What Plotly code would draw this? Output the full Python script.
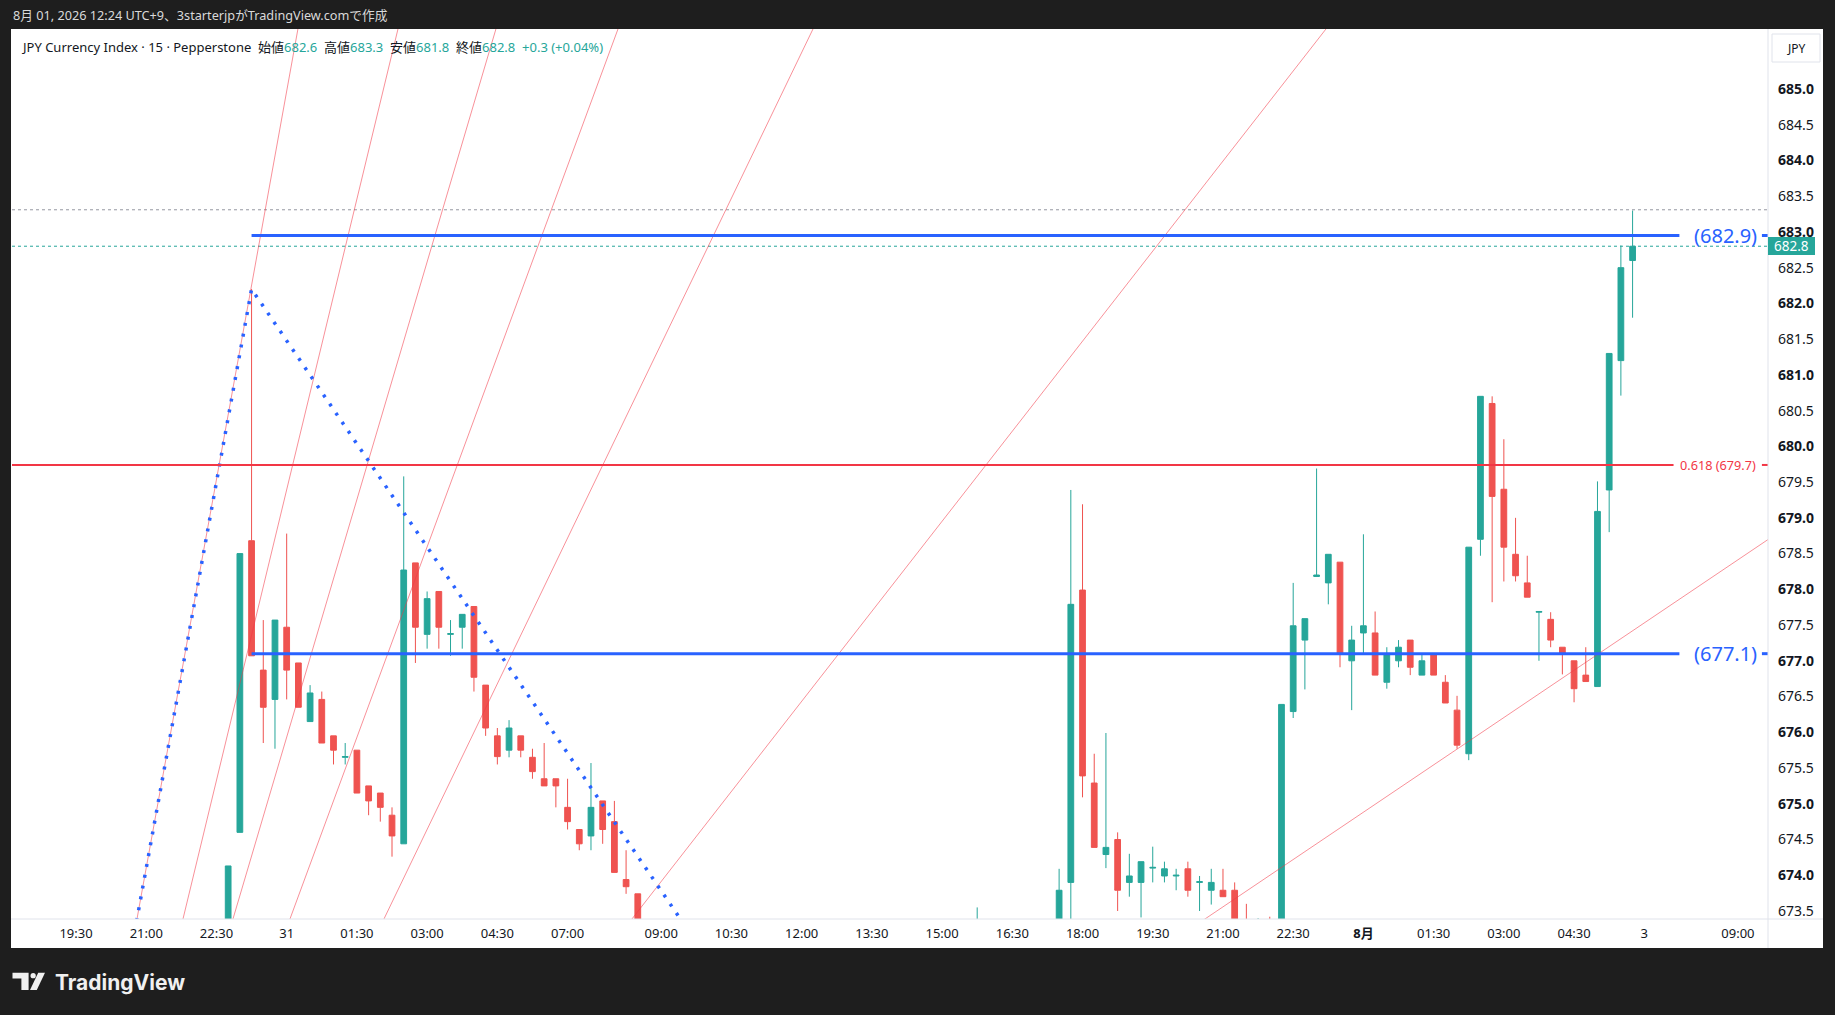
import plotly.graph_objects as go

# JPY Currency Index, 15 min bars (Pepperstone)
# x = bar number, 0 = 7/31 00:00
bar_idx = list(range(-5, 31)) + [59] + list(range(66, 116))

opens = [
    672.90, 674.60, 678.68, 676.87, 676.46, 677.47, 676.97, 676.15, 676.46, 675.95,
    675.65, 675.75, 675.25, 675.15, 674.84, 674.44, 678.37, 677.37, 677.97, 677.37,
    677.47, 677.76, 676.66, 675.95, 675.75, 675.95, 675.65, 675.35, 675.35, 674.95,
    674.64, 674.55, 675.04, 674.75, 673.94, 673.74,
    673.10,
    673.20, 673.90, 677.99, 675.29, 674.29, 674.50, 673.90, 673.90, 674.10, 673.99,
    673.99, 674.09, 673.90, 673.79, 673.79, 673.79, 673.30, 673.10, 673.30, 673.20,
    676.29, 677.29, 678.18, 678.09, 678.38, 677.00, 677.39, 677.39, 676.70, 677.00,
    677.29, 676.80, 677.10, 676.70, 676.31, 675.70, 678.70, 680.60, 679.40, 678.49,
    678.09, 677.68, 677.58, 677.19, 677.00, 676.80, 676.64, 679.39, 681.20, 682.60,
]
highs = [
    674.13, 678.50, 682.20, 677.57, 677.57, 678.78, 676.97, 676.66, 676.57, 675.95,
    675.85, 675.75, 675.25, 675.15, 674.95, 679.58, 678.37, 677.97, 677.97, 677.57,
    677.65, 677.76, 676.66, 676.06, 676.17, 675.95, 675.77, 675.85, 675.35, 675.35,
    674.64, 675.57, 675.04, 675.04, 674.35, 673.74,
    673.55,
    674.09, 679.39, 679.19, 675.70, 675.99, 674.60, 674.30, 674.19, 674.40, 674.19,
    674.09, 674.19, 673.99, 674.09, 674.09, 673.90, 673.60, 673.40, 673.42, 676.39,
    678.09, 677.59, 679.69, 678.49, 678.38, 677.49, 678.77, 677.69, 677.19, 677.29,
    677.29, 677.10, 677.10, 676.80, 676.51, 678.59, 680.70, 680.70, 680.10, 679.00,
    678.47, 677.69, 677.68, 677.19, 677.00, 677.19, 679.51, 681.30, 682.81, 683.30,
]
lows = [
    672.60, 674.60, 677.07, 675.85, 675.77, 676.46, 676.35, 676.15, 675.85, 675.55,
    675.55, 675.15, 674.84, 674.75, 674.26, 674.44, 676.97, 677.17, 677.17, 677.07,
    677.17, 676.57, 675.95, 675.55, 675.65, 675.65, 675.35, 675.25, 674.95, 674.64,
    674.35, 674.35, 674.44, 674.04, 673.74, 673.10,
    672.90,
    673.10, 673.20, 675.09, 674.39, 674.10, 673.50, 673.70, 673.41, 673.90, 673.90,
    673.79, 673.70, 673.50, 673.59, 673.70, 673.10, 672.90, 672.90, 672.90, 673.00,
    676.20, 676.60, 678.18, 677.79, 676.91, 676.31, 677.10, 676.80, 676.61, 676.91,
    676.80, 676.80, 676.80, 676.41, 675.77, 675.61, 678.47, 677.82, 678.11, 678.11,
    677.89, 677.00, 677.19, 676.81, 676.42, 676.71, 676.64, 678.80, 680.71, 681.80,
]
closes = [
    674.13, 678.50, 677.07, 676.35, 677.57, 676.87, 676.35, 676.55, 675.85, 675.75,
    675.66, 675.15, 675.04, 674.95, 674.55, 678.27, 677.47, 677.87, 677.47, 677.38,
    677.65, 676.77, 676.06, 675.66, 676.06, 675.75, 675.45, 675.25, 675.25, 674.75,
    674.44, 674.95, 674.64, 674.04, 673.84, 673.20,
    673.20,
    673.79, 677.79, 675.39, 674.39, 674.39, 673.79, 673.99, 674.19, 674.11, 674.09,
    674.00, 673.79, 673.91, 673.90, 673.70, 673.25, 673.00, 673.20, 673.10, 676.39,
    677.49, 677.59, 678.20, 678.49, 677.10, 677.29, 677.49, 676.80, 677.10, 677.19,
    676.91, 677.00, 676.80, 676.41, 675.82, 678.59, 680.70, 679.30, 678.59, 678.19,
    677.89, 677.69, 677.29, 677.10, 676.61, 676.71, 679.09, 681.30, 682.50, 682.80,
]

# time axis
time_tick_idx = [-18, -12, -6, 0, 6, 12, 18, 24, 32, 38, 44, 50, 56, 62, 68, 74, 80, 86,
                 92, 98, 104, 110, 116, 124]
time_tick_text = ["19:30", "21:00", "22:30", "31", "01:30", "03:00", "04:30", "07:00",
                  "09:00", "10:30", "12:00", "13:30", "15:00", "16:30", "18:00", "19:30",
                  "21:00", "22:30", "<b>8月</b>", "01:30", "03:00", "04:30", "3", "09:00"]

# price axis
price_ticks = [673.5, 674.0, 674.5, 675.0, 675.5, 676.0, 676.5, 677.0, 677.5, 678.0,
               678.5, 679.0, 679.5, 680.0, 680.5, 681.0, 681.5, 682.0, 682.5, 683.0,
               683.5, 684.0, 684.5, 685.0]

# drawings
level_lines = [682.95, 677.1]          # blue horizontal lines
level_labels = ["(682.9)", "(677.1)"]
level_start = -3
level_end = 119
fib_level = 679.74                     # 0.618 line
fib_label = "0.618 (679.7)"
fib_end = 118.5
# dotted blue swing: low -> high -> low
swing_x = [-14, -3, 38]
swing_y = [672.3, 682.2, 672.34]
# fan lines: bar position where each line crosses the bottom / top of the pane
fan_bottom_x = [-12.79, -8.86, -4.59, 0.28, 8.31, 29.5, 78.46]
fan_top_x = [0.96, 9.51, 17.88, 28.31, 44.97, 88.8, 191.3]

last_close = 682.8
session_high = 683.31

X_RANGE = [-23.47, 126.57]
Y_RANGE = [673.388, 685.839]

UP = "#26a69a"
DOWN = "#ef5350"
BLUE = "#2962ff"
RED = "#f23645"
TXT = "#131722"
FONT = "Noto Sans, Noto Sans CJK JP, sans-serif"


def px(x):
    return (x - 12) / 1756


def py(y):
    return (919 - y) / 890


fig = go.Figure()

# price lines (last close / high)
fig.add_trace(go.Scatter(x=X_RANGE, y=[session_high, session_high], mode="lines",
                         line=dict(color="#9598a1", width=1, dash="dot"),
                         hoverinfo="skip", showlegend=False))
fig.add_trace(go.Scatter(x=X_RANGE, y=[last_close, last_close], mode="lines",
                         line=dict(color=UP, width=1, dash="dot"),
                         hoverinfo="skip", showlegend=False))

fig.add_trace(go.Candlestick(
    x=bar_idx, open=opens, high=highs, low=lows, close=closes,
    increasing=dict(line=dict(color=UP, width=1), fillcolor=UP),
    decreasing=dict(line=dict(color=DOWN, width=1), fillcolor=DOWN),
    whiskerwidth=0, hoverinfo="skip", showlegend=False,
))

# fan
ylo, yhi = Y_RANGE
for xb, xt in zip(fan_bottom_x, fan_top_x):
    k = (xt - xb) / (yhi - ylo)
    fig.add_trace(go.Scatter(
        x=[xb - k * 2, xt + k * 2], y=[ylo - 2, yhi + 2], mode="lines",
        line=dict(color="rgba(242,54,69,0.55)", width=1),
        hoverinfo="skip", showlegend=False))

# dotted swing lines
fig.add_trace(go.Scatter(x=swing_x, y=swing_y, mode="lines",
                         line=dict(color=BLUE, width=3.5, dash="3px,8px"),
                         hoverinfo="skip", showlegend=False))

# fib 0.618 line
fig.add_trace(go.Scatter(x=[X_RANGE[0], fib_end], y=[fib_level, fib_level], mode="lines",
                         line=dict(color=RED, width=2), hoverinfo="skip", showlegend=False))
fig.add_trace(go.Scatter(x=[126.05, X_RANGE[1]], y=[fib_level, fib_level], mode="lines",
                         line=dict(color=RED, width=2), hoverinfo="skip", showlegend=False))

# horizontal levels
for lv in level_lines:
    fig.add_trace(go.Scatter(x=[level_start, level_end], y=[lv, lv], mode="lines",
                             line=dict(color=BLUE, width=3), hoverinfo="skip",
                             showlegend=False))
    fig.add_trace(go.Scatter(x=[126.05, X_RANGE[1]], y=[lv, lv], mode="lines",
                             line=dict(color=BLUE, width=3), hoverinfo="skip",
                             showlegend=False))

annotations = []
for lv, lab in zip(level_lines, level_labels):
    annotations.append(dict(x=120.1, y=lv, xref="x", yref="y", xanchor="left",
                            yanchor="middle", text=lab, showarrow=False,
                            font=dict(family=FONT, size=20, color=BLUE)))
annotations.append(dict(x=118.9, y=fib_level, xref="x", yref="y", xanchor="left",
                        yanchor="middle", text=fib_label, showarrow=False,
                        font=dict(family=FONT, size=12.7, color=RED)))

# header and legend
annotations.append(dict(x=px(11), y=py(15), xref="paper", yref="paper", xanchor="left",
                        yanchor="middle", showarrow=False,
                        text="8月 01, 2026 12:24 UTC+9、3starterjpがTradingView.comで作成",
                        font=dict(family=FONT, size=12.7, color="#d9d9d9")))
teal = lambda s: "<span style='color:%s'>%s</span>" % (UP, s)
legend_txt = ("JPY Currency Index · 15 · Pepperstone  始値" + teal("682.6") + "  高値" +
              teal("683.3") + "  安値" + teal("681.8") + "  終値" + teal("682.8") + "  " +
              teal("+0.3 (+0.04%)"))
annotations.append(dict(x=px(19), y=py(47), xref="paper", yref="paper", xanchor="left",
                        yanchor="middle", showarrow=False, text=legend_txt,
                        font=dict(family=FONT, size=13, color=TXT)))
annotations.append(dict(x=px(1796), y=py(48), xref="paper", yref="paper", xanchor="center",
                        yanchor="middle", showarrow=False, text="JPY",
                        font=dict(family=FONT, size=12, color=TXT)))
annotations.append(dict(x=px(1791.5), y=py(246), xref="paper", yref="paper", xanchor="center",
                        yanchor="middle", showarrow=False, text="%.1f" % last_close,
                        font=dict(family=FONT, size=13.5, color="white")))
annotations.append(dict(x=px(53), y=py(983), xref="paper", yref="paper", xanchor="left",
                        yanchor="middle", showarrow=False, text="<b>TradingView</b>",
                        font=dict(family="Inter, " + FONT, size=21, color="#f0f0f0")))

shapes = [
    dict(type="rect", xref="paper", yref="paper", x0=px(11), x1=px(1823), y0=py(948),
         y1=py(29), fillcolor="white", line=dict(width=0), layer="below"),
    dict(type="line", xref="paper", yref="paper", x0=px(1768), x1=px(1768), y0=py(948),
         y1=py(29), line=dict(color="#e0e3eb", width=1)),
    dict(type="line", xref="paper", yref="paper", x0=px(11), x1=px(1823), y0=py(919),
         y1=py(919), line=dict(color="#e0e3eb", width=1)),
    dict(type="rect", xref="paper", yref="paper", x0=px(1772), x1=px(1820), y0=py(62),
         y1=py(34), fillcolor="white", line=dict(color="#e0e3eb", width=1)),
    dict(type="rect", xref="paper", yref="paper", x0=px(1768), x1=px(1815), y0=py(255),
         y1=py(237), fillcolor=UP, line=dict(width=0)),
]

# TradingView logo mark


def path(pts):
    return "M " + " L ".join("%.5f,%.5f" % (px(a), py(b)) for a, b in pts) + " Z"


shapes.append(dict(type="path", xref="paper", yref="paper", fillcolor="#f0f0f0",
                   line=dict(width=0),
                   path=path([(12.5, 972.7), (28.6, 972.7), (28.6, 990), (21.4, 990),
                              (21.4, 978.6), (12.5, 978.6)])))
shapes.append(dict(type="circle", xref="paper", yref="paper", fillcolor="#f0f0f0",
                   line=dict(width=0), x0=px(30.5), x1=px(35.8), y0=py(978.3),
                   y1=py(973)))
shapes.append(dict(type="path", xref="paper", yref="paper", fillcolor="#f0f0f0",
                   line=dict(width=0),
                   path=path([(38.2, 972.7), (45.0, 972.7), (36.8, 990), (30.0, 990)])))

fig.update_layout(
    width=1835, height=1015, autosize=False,
    margin=dict(l=12, r=67, t=29, b=96, pad=0),
    paper_bgcolor="#1e1e1e", plot_bgcolor="white",
    font=dict(family=FONT, size=13, color=TXT),
    showlegend=False,
    annotations=annotations,
    shapes=shapes,
    xaxis=dict(range=X_RANGE, tickvals=time_tick_idx, ticktext=time_tick_text,
               showgrid=False, zeroline=False, showline=False, ticks="",
               ticklabelstandoff=5,
               tickfont=dict(family=FONT, size=13, color=TXT),
               rangeslider=dict(visible=False), fixedrange=True),
    yaxis=dict(range=Y_RANGE, side="right", tickvals=price_ticks,
               ticktext=[("<b>%.1f</b>" % v) if v == int(v) else ("%.1f" % v)
                         for v in price_ticks],
               showgrid=False, zeroline=False, showline=False, ticks="",
               ticklabelstandoff=9,
               tickfont=dict(family=FONT, size=14, color=TXT), fixedrange=True),
)

# page body has a default 8px margin; drop it so the figure fills the window
fig.write_html("out.html", config={"displayModeBar": False},
               post_script="document.body.style.margin='0';")
